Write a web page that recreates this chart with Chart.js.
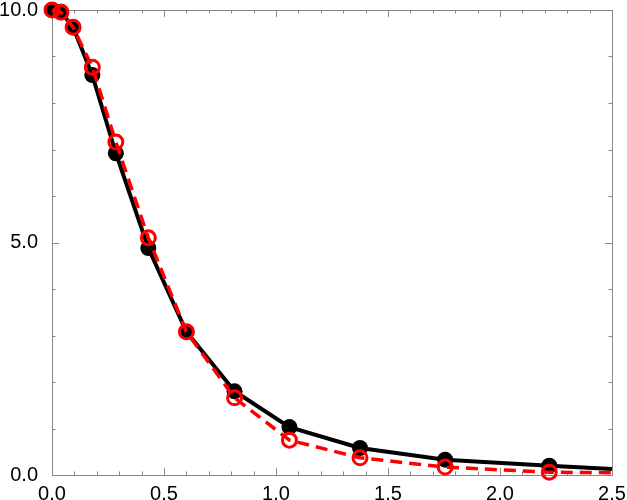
<!DOCTYPE html>
<html>
<head>
<meta charset="utf-8">
<script src="https://cdn.jsdelivr.net/npm/chart.js@4"></script>
<style>
  html, body { margin: 0; padding: 0; background: #fff; }
  #wrap { width: 627px; height: 500px; }
</style>
</head>
<body>
<div id="wrap"><canvas id="chart"></canvas></div>
<script>
const xValues = [0.0, 0.04, 0.094, 0.18, 0.285, 0.43, 0.6, 0.815, 1.06, 1.375, 1.755, 2.22, 2.5];
const blackValues = [10.0, 9.96, 9.63, 8.6, 6.92, 4.88, 3.08, 1.8, 1.03, 0.58, 0.33, 0.2, 0.13];
const redValues = [10.0, 9.95, 9.63, 8.77, 7.16, 5.1, 3.08, 1.66, 0.75, 0.37, 0.17, 0.06, 0.05];

const xTicks = [0.0, 0.5, 1.0, 1.5, 2.0, 2.5];
const yTicks = [0.0, 5.0, 10.0];

const AXIS_COLOR = "#888888";

const toPoints = (ys) => xValues.map((x, i) => ({ x: x, y: ys[i] }));
// last point is just the end of the line, no marker
const markerRadius = (r) => xValues.map((x, i) => (i === xValues.length - 1 ? 0 : r));

// box round the plot with inward ticks on all four sides
const framePlugin = {
  id: "frame",
  beforeDatasetsDraw(chart) {
    const { ctx, chartArea: a, scales } = chart;
    ctx.save();
    ctx.strokeStyle = AXIS_COLOR;
    ctx.lineWidth = 1;
    ctx.strokeRect(a.left + 0.5, a.top + 0.5, a.right - a.left, a.bottom - a.top);
    ctx.beginPath();
    for (let i = 0; i <= 25; i++) {
      const px = Math.round(scales.x.getPixelForValue(i / 10)) + 0.5;
      const len = i % 5 === 0 ? 7 : 3.5;
      ctx.moveTo(px, a.bottom);
      ctx.lineTo(px, a.bottom - len);
      ctx.moveTo(px, a.top);
      ctx.lineTo(px, a.top + len);
    }
    for (let j = 0; j <= 10; j++) {
      const py = Math.round(scales.y.getPixelForValue(j)) + 0.5;
      const len = j % 5 === 0 ? 7 : 3.5;
      ctx.moveTo(a.left, py);
      ctx.lineTo(a.left + len, py);
      ctx.moveTo(a.right, py);
      ctx.lineTo(a.right - len, py);
    }
    ctx.stroke();
    ctx.restore();
  },
};

const config = {
  type: "scatter",
  data: {
    datasets: [
      {
        label: "black",
        order: 1,
        data: toPoints(blackValues),
        showLine: true,
        borderColor: "#000000",
        backgroundColor: "#000000",
        borderWidth: 4,
        pointRadius: markerRadius(8),
        pointBorderWidth: 0,
        pointBackgroundColor: "#000000",
        tension: 0,
        clip: false,
      },
      {
        label: "red",
        order: 0,
        data: toPoints(redValues),
        showLine: true,
        borderColor: "#ff0000",
        backgroundColor: "rgba(0,0,0,0)",
        borderWidth: 3.5,
        borderDash: [12, 7],
        pointRadius: markerRadius(7),
        pointBorderWidth: 3,
        pointBorderColor: "#ff0000",
        pointBackgroundColor: "rgba(0,0,0,0)",
        tension: 0,
        clip: false,
      },
    ],
  },
  options: {
    responsive: true,
    maintainAspectRatio: false,
    animation: false,
    events: [],
    layout: { padding: { top: 10, right: 15, left: 0, bottom: 0 } },
    plugins: {
      legend: { display: false },
      tooltip: { enabled: false },
    },
    scales: {
      x: {
        type: "linear",
        min: 0,
        max: 2.5,
        grid: { display: false, drawTicks: false },
        border: { display: false },
        afterBuildTicks: (scale) => {
          scale.ticks = xTicks.map((v) => ({ value: v }));
        },
        afterFit: (scale) => {
          scale.height = 25;
          scale.paddingLeft = 0;
          scale.paddingRight = 0;
        },
        ticks: {
          color: "#000000",
          padding: 7,
          maxRotation: 0,
          autoSkip: false,
          font: { family: "'Liberation Sans', Arial, sans-serif", size: 20 },
          callback: (v) => Number(v).toFixed(1),
        },
      },
      y: {
        type: "linear",
        min: 0,
        max: 10,
        grid: { display: false, drawTicks: false },
        border: { display: false },
        afterBuildTicks: (scale) => {
          scale.ticks = yTicks.map((v) => ({ value: v }));
        },
        afterFit: (scale) => {
          scale.width = 52;
          scale.paddingTop = 0;
          scale.paddingBottom = 0;
        },
        ticks: {
          color: "#000000",
          padding: 14,
          autoSkip: false,
          font: { family: "'Liberation Sans', Arial, sans-serif", size: 20 },
          callback: (v) => Number(v).toFixed(1),
        },
      },
    },
  },
  plugins: [framePlugin],
};

new Chart(document.getElementById("chart"), config);
</script>
</body>
</html>
